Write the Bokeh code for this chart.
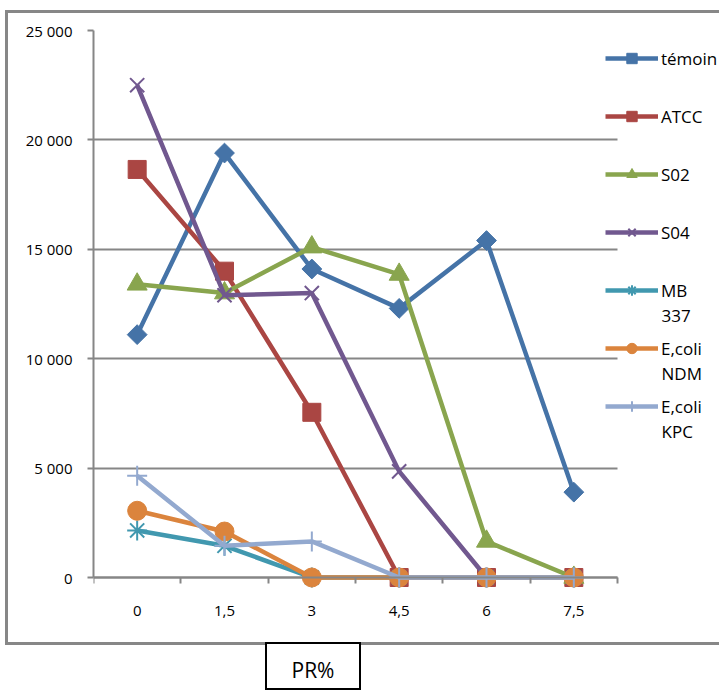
import numpy as np
from bokeh.plotting import figure
from bokeh.models import FixedTicker, Legend, LegendItem, Div, Range1d, Label, LinearAxis
from bokeh.layouts import column
from bokeh.embed import file_html
from bokeh.resources import INLINE

# ---- data ----
categories = ["0", "1,5", "3", "4,5", "6", "7,5"]
temoin = [11100, 19400, 14100, 12300, 15400, 3900]
atcc = [18650, 14000, 7550, 0, 0, 0]
s02 = [13400, 13000, 15100, 13850, 1650, 0]
s04 = [22500, 12900, 13000, 4850, 0, 0]
mb337 = [2150, 1450, 0, 0, 0, 0]
ecoli_ndm = [3050, 2100, 0, 0, 0, 0]
ecoli_kpc = [4650, 1450, 1650, 0, 0, 0]
series_names = ["témoin", "ATCC", "S02", "S04", "MB\n337", "E,coli\nNDM", "E,coli\nKPC"]
y_ticks = [0, 5000, 10000, 15000, 20000, 25000]
y_tick_labels = ["0", "5 000", "10 000", "15 000", "20 000", "25 000"]
x_axis_title = "PR%"

series_values = [temoin, atcc, s02, s04, mb337, ecoli_ndm, ecoli_kpc]
colors = ["#4573A7", "#AA4643", "#89A54E", "#71588F", "#4198AF", "#DB843D", "#93A9CF"]
markers = [
    dict(marker="square", size=14, angle=np.pi / 4, line_width=1),
    dict(marker="square", size=18, angle=0, line_width=1),
    dict(marker="triangle", size=20, angle=0, line_width=1),
    dict(marker="x", size=20, angle=0, line_width=2),
    dict(marker="asterisk", size=20, angle=0, line_width=2),
    dict(marker="circle", size=19, angle=0, line_width=1),
    dict(marker="cross", size=20, angle=0, line_width=2),
]

GREY = "#868686"
FONT = "Open Sans"

# layout constants (page pixels)
CANVAS_X0, CANVAS_Y0 = 8, 13
CANVAS_W, CANVAS_H = 714, 635
FRAME_LEFT, FRAME_TOP = 93, 30
ZERO_Y = 577          # where the value 0 (x axis) sits
FRAME_BOTTOM = 590    # frame extends a bit below 0 so markers at 0 are not clipped
DATA_RIGHT = 617      # where the category axis ends
n = len(categories)
y_max = 25000
px_per_unit = (DATA_RIGHT - FRAME_LEFT) / n
px_per_val = (ZERO_Y - FRAME_TOP) / y_max
x_end = -0.5 + (CANVAS_X0 + CANVAS_W - FRAME_LEFT) / px_per_unit
y_start = -(FRAME_BOTTOM - ZERO_Y) / px_per_val

x = list(range(n))

p = figure(
    width=CANVAS_W, height=CANVAS_H,
    x_range=Range1d(-0.5, x_end),
    y_range=Range1d(y_start, y_max),
    output_backend="svg", toolbar_location=None,
    min_border_left=FRAME_LEFT - CANVAS_X0, min_border_right=0,
    min_border_top=FRAME_TOP - CANVAS_Y0,
    min_border_bottom=CANVAS_Y0 + CANVAS_H - FRAME_BOTTOM,
)
p.outline_line_color = None
p.background_fill_color = "white"
p.border_fill_color = "white"

p.xgrid.visible = False
p.ygrid.grid_line_color = GREY
p.ygrid.grid_line_width = 2
p.ygrid.ticker = FixedTicker(ticks=y_ticks)
p.ygrid.cross_bounds = (-0.5, n - 0.5)

# x axis line + boundary ticks, fixed at value 0 (no labels of its own)
xa = p.xaxis[0]
xa.fixed_location = 0
xa.bounds = (-0.5, n - 0.5)
xa.ticker = FixedTicker(ticks=[], minor_ticks=[i - 0.5 for i in range(n + 1)])
xa.major_label_standoff = 0
xa.major_tick_line_color = None
xa.major_tick_out = 0
xa.major_tick_in = 0
xa.minor_tick_out = 6
xa.minor_tick_in = 0
xa.minor_tick_line_color = GREY
xa.minor_tick_line_width = 2
xa.axis_line_color = GREY
xa.axis_line_width = 2

# category labels
xl = LinearAxis(
    ticker=FixedTicker(ticks=x),
    major_label_overrides={i: c for i, c in enumerate(categories)},
    axis_line_color=None, major_tick_line_color=None, minor_tick_line_color=None,
    major_tick_out=0, major_tick_in=0, minor_tick_out=0, minor_tick_in=0,
    major_label_standoff=15,
    major_label_text_font=FONT, major_label_text_font_size="15px",
    major_label_text_color="#000000",
)
p.add_layout(xl, "below")

ya = p.yaxis[0]
ya.bounds = (0, y_max)
ya.ticker = FixedTicker(ticks=y_ticks)
ya.major_label_overrides = {t: l for t, l in zip(y_ticks, y_tick_labels)}
ya.major_tick_out = 6
ya.major_tick_in = 0
ya.major_tick_line_color = GREY
ya.major_tick_line_width = 2
ya.minor_tick_line_color = None
ya.axis_line_color = GREY
ya.axis_line_width = 2
ya.major_label_standoff = 15
ya.major_label_text_font = FONT
ya.major_label_text_font_size = "15px"
ya.major_label_text_color = "#000000"

items = []
for name, vals, c, m in zip(series_names, series_values, colors, markers):
    lr = p.line(x, vals, line_color=c, line_width=4.5)
    sr = p.scatter(x, vals, marker=m["marker"], size=m["size"], angle=m["angle"],
                   fill_color=c, line_color=c, line_width=m["line_width"])
    items.append(LegendItem(label=name.split("\n")[0], renderers=[lr, sr]))

# legend geometry
LEG_LEFT, LEG_FIRST_CENTER, LEG_PITCH = 605, 58, 58
GLYPH_W, ITEM_H = 53, 26
STANDOFF = 3
leg_height = len(items) * ITEM_H + (len(items) - 1) * (LEG_PITCH - ITEM_H)
leg_top = LEG_FIRST_CENTER - ITEM_H / 2
legend = Legend(
    items=items,
    location=(LEG_LEFT - FRAME_LEFT, FRAME_BOTTOM - (leg_top + leg_height)),
    glyph_width=GLYPH_W, glyph_height=ITEM_H, label_height=ITEM_H,
    label_standoff=STANDOFF, spacing=LEG_PITCH - ITEM_H, padding=0, margin=0,
    border_line_color=None, background_fill_alpha=0,
    label_text_font=FONT, label_text_font_size="17px", label_text_color="#000000",
)
p.add_layout(legend)

# second lines of the two-line legend labels
LINE2_OFFSET = 25
text_left_px = LEG_LEFT + GLYPH_W + STANDOFF
for i, name in enumerate(series_names):
    parts = name.split("\n")
    for k, part in enumerate(parts[1:], start=1):
        y_px = LEG_FIRST_CENTER + i * LEG_PITCH + k * LINE2_OFFSET
        p.add_layout(Label(
            x=-0.5 + (text_left_px - FRAME_LEFT) / px_per_unit,
            y=(ZERO_Y - y_px) / px_per_val,
            text=part, text_font=FONT, text_font_size="17px", text_color="#000000",
            text_align="left", text_baseline="middle",
        ))

p.margin = (10, 0, 0, 5)
p.styles = {
    "border-left": "3px solid #878787",
    "border-top": "3px solid #878787",
    "border-bottom": "3px solid #878787",
}

title_box = Div(
    text=('<div style="width:92px;padding-top:11px;text-align:center;'
          'font-family:\'Open Sans\';font-size:21px;color:#000000">' + x_axis_title + '</div>'),
    width=96, height=48, margin=(-3, 0, 0, 265),
    styles={"border": "2px solid #000000", "background": "white"},
)

layout = column(p, title_box, spacing=0)
open("out.html", "w").write(file_html(layout, INLINE))
